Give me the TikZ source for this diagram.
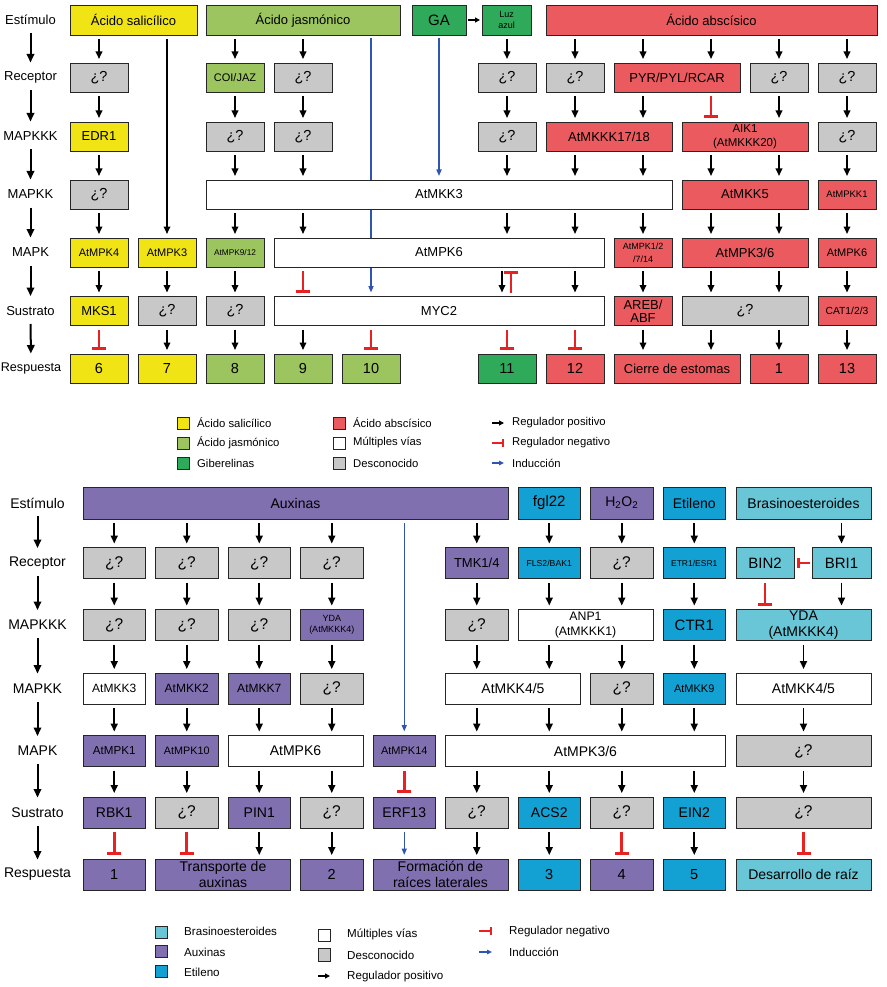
\documentclass[tikz,border=0pt]{standalone}
\usepackage{fontspec}
\setmainfont{Liberation Sans}
\usetikzlibrary{arrows.meta,backgrounds}
\definecolor{cY}{HTML}{F0E414}
\definecolor{cLG}{HTML}{9DC55F}
\definecolor{cDG}{HTML}{2FAA5A}
\definecolor{cR}{HTML}{EB5A5E}
\definecolor{cG}{HTML}{C8C8C8}
\definecolor{cP}{HTML}{8070B0}
\definecolor{cB}{HTML}{12A1D2}
\definecolor{cC}{HTML}{68C6D7}
\definecolor{cInh}{HTML}{E82222}
\definecolor{cInd}{HTML}{2E55B0}
\tikzset{
 box/.style={draw=black!85,line width=0.8pt,inner sep=0pt,outer sep=0pt,align=center},
 fs/.style 2 args={font=\fontsize{#1}{#2}\selectfont},
 sY/.style={fill=cY}, sLG/.style={fill=cLG}, sDG/.style={fill=cDG}, sR/.style={fill=cR},
 sG/.style={fill=cG}, sW/.style={fill=white}, sP/.style={fill=cP}, sB/.style={fill=cB}, sC/.style={fill=cC},
 numtx/.style={fs={14.5}{16}},
 parr/.style={-{Triangle[length=7.5pt,width=6.5pt]},line width=1.7pt,shorten <=4pt,shorten >=4pt},
 narr/.style={-{Bar[width=14pt]},draw=cInh,line width=2.6pt,shorten <=4pt,shorten >=4pt},
 iarr/.style={-{Triangle[length=6.5pt,width=5pt]},draw=cInd,line width=1.5pt,shorten <=4pt,shorten >=4pt},
 sidearr/.style={-{Triangle[length=8.5pt,width=7.5pt]},line width=2pt,shorten <=13pt,shorten >=15pt},
 lbl/.style={inner sep=0pt,align=center},
 lgsq/.style={draw=black!85,line width=0.7pt,minimum width=12pt,minimum height=12.5pt,inner sep=0pt},
 lgt/.style={anchor=west,inner sep=0pt},
 lparr/.style={-{Triangle[length=5pt,width=5pt]},line width=1.3pt},
 lnarr/.style={-{Bar[width=8pt]},draw=cInh,line width=2pt},
 liarr/.style={-{Triangle[length=5pt,width=4.5pt]},draw=cInd,line width=1.4pt},
}
\newcommand\bx[7]{\node[box,#1,minimum width={(#4)-(#3)},minimum height={#6}] (#2) at ({((#3)+(#4))/2},#5) {#7};}
\newcommand\cn[4]{\draw[#1] (#2.south -| #4) -- (#3.north -| #4);}
\newcommand\qmk{{\fontsize{14.5}{15}\selectfont ¿?}}
\newcommand\qmkb{{\fontsize{15.5}{16}\selectfont ¿?}}
\begin{document}
\begin{tikzpicture}[x=1pt,y=-1pt]
\useasboundingbox (0,0) rectangle (886,987);
\foreach \i in {0,...,11} {\coordinate (tc\i) at ({99+68*\i},0);}
\coordinate (tcA) at (502,0);
\coordinate (tcB) at (511,0);
\foreach \i in {0,...,8} {\coordinate (bc\i) at ({114.25+72.5*\i},0);}
\coordinate (bcR) at (803.5,0);
\coordinate (bcL) at (765,0);
\coordinate (bcRR) at (841.5,0);

% ================= TOP =================
\begin{scope}[fs={13}{15}]
\node[lbl] (tl0) at (30.5,20) {Estímulo};
\node[lbl] (tl1) at (30.5,77.5) {Receptor};
\node[lbl] (tl2) at (30.5,136.5) {MAPKKK};
\node[lbl] (tl3) at (30.5,194.5) {MAPKK};
\node[lbl] (tl4) at (30.5,252.5) {MAPK};
\node[lbl] (tl5) at (30.5,311) {Sustrato};
\node[lbl,fs={12.6}{14}] (tl6) at (31,368.5) {Respuesta};
\foreach \a/\b in {tl0/tl1,tl1/tl2,tl2/tl3,tl3/tl4,tl4/tl5,tl5/tl6} {\draw[sidearr] (\a.center) -- (\b.center);}

\bx{sY}{sa}{70}{197}{20}{30}{Ácido salicílico}
\bx{sLG}{ja}{206}{400}{20}{30}{Ácido jasmónico}
\bx{sDG,fs={15}{16}}{ga}{412}{466}{20}{30}{GA}
\bx{sDG,fs={9}{11.5}}{luz}{482}{531}{20}{30}{Luz\\azul}
\bx{sR}{aba}{546}{877}{20}{30}{Ácido abscísico}

\bx{sG}{ra0}{70}{128}{77.5}{29}{\qmk}
\bx{sLG,fs={11}{13}}{coi}{206}{264}{77.5}{29}{COI/JAZ}
\bx{sG}{ra3}{274}{332}{77.5}{29}{\qmk}
\bx{sG}{ra6}{478}{536}{77.5}{29}{\qmk}
\bx{sG}{ra7}{546}{604}{77.5}{29}{\qmk}
\bx{sR}{pyr}{614}{740}{77.5}{29}{PYR/PYL/RCAR}
\bx{sG}{ra10}{750}{808}{77.5}{29}{\qmk}
\bx{sG}{ra11}{818}{876}{77.5}{29}{\qmk}

\bx{sY}{edr}{70}{128}{136.5}{29}{EDR1}
\bx{sG}{rb2}{206}{264}{136.5}{29}{\qmk}
\bx{sG}{rb3}{274}{332}{136.5}{29}{\qmk}
\bx{sG}{rb6}{478}{536}{136.5}{29}{\qmk}
\bx{sR}{mkkk}{546}{672}{136.5}{29}{AtMKKK17/18}
\bx{sR,fs={11.5}{14}}{aik}{682}{808}{136.5}{29}{AIK1\\(AtMKKK20)}
\bx{sG}{rb11}{818}{876}{136.5}{29}{\qmk}

\bx{sG}{rc0}{70}{128}{194.5}{29}{\qmk}
\bx{sW}{mkk3}{206}{672}{194.5}{29}{AtMKK3}
\bx{sR}{mkk5}{682}{808}{194.5}{29}{AtMKK5}
\bx{sR,fs={9.5}{11}}{mpkk1}{818}{876}{194.5}{29}{AtMPKK1}

\bx{sY,fs={11}{13}}{mpk4}{70}{128}{252.5}{29}{AtMPK4}
\bx{sY,fs={11}{13}}{mpk3}{138}{196}{252.5}{29}{AtMPK3}
\bx{sLG,fs={8.3}{10}}{mpk912}{206}{264}{252.5}{29}{AtMPK9/12}
\bx{sW}{mpk6}{274}{604}{252.5}{29}{AtMPK6}
\bx{sR,fs={9}{13}}{mpk127}{614}{672}{252.5}{29}{AtMPK1/2\\/7/14}
\bx{sR}{mpk36}{682}{808}{252.5}{29}{AtMPK3/6}
\bx{sR,fs={11}{13}}{mpk6r}{818}{876}{252.5}{29}{AtMPK6}

\bx{sY}{mks}{70}{128}{311}{29}{MKS1}
\bx{sG}{rd1}{138}{196}{311}{29}{\qmk}
\bx{sG}{rd2}{206}{264}{311}{29}{\qmk}
\bx{sW}{myc}{274}{604}{311}{29}{MYC2}
\bx{sR,fs={13}{13}}{areb}{614}{672}{311}{29}{AREB/\\ABF}
\bx{sG}{rd9}{682}{808}{311}{29}{\qmk}
\bx{sR,fs={10.3}{12}}{cat}{818}{876}{311}{29}{CAT1/2/3}

\bx{sY,numtx}{p6}{70}{128}{368.5}{29}{6}
\bx{sY,numtx}{p7}{138}{196}{368.5}{29}{7}
\bx{sLG,numtx}{p8}{206}{264}{368.5}{29}{8}
\bx{sLG,numtx}{p9}{274}{332}{368.5}{29}{9}
\bx{sLG,numtx}{p10}{342}{400}{368.5}{29}{10}
\bx{sDG,numtx}{p11}{478}{536}{368.5}{29}{11}
\bx{sR,numtx}{p12}{546}{604}{368.5}{29}{12}
\bx{sR}{cierre}{614}{740}{368.5}{29}{Cierre de estomas}
\bx{sR,numtx}{p1}{750}{808}{368.5}{29}{1}
\bx{sR,numtx}{p13}{818}{876}{368.5}{29}{13}
\end{scope}

\begin{scope}[on background layer]
\draw[iarr,shorten <=3pt] (ja.south -| tc4) -- (myc.north -| tc4);
\end{scope}

% top connectors
\draw[-{Triangle[length=5pt,width=5pt]},line width=1.3pt,shorten <=2pt,shorten >=2pt] (ga.east) -- (luz.west);
\cn{parr}{sa}{ra0}{tc0}
\cn{parr}{sa}{mpk3}{tc1}
\cn{parr}{ja}{coi}{tc2}
\cn{parr}{ja}{ra3}{tc3}
\cn{iarr,shorten <=3pt}{ga}{mkk3}{tc5}
\cn{parr}{luz}{ra6}{tc6}
\cn{parr}{aba}{ra7}{tc7}
\cn{parr}{aba}{pyr}{tc8}
\cn{parr}{aba}{pyr}{tc9}
\cn{parr}{aba}{ra10}{tc10}
\cn{parr}{aba}{ra11}{tc11}

\cn{parr}{ra0}{edr}{tc0}
\cn{parr}{coi}{rb2}{tc2}
\cn{parr}{ra3}{rb3}{tc3}
\cn{parr}{ra6}{rb6}{tc6}
\cn{parr}{ra7}{mkkk}{tc7}
\cn{parr}{pyr}{mkkk}{tc8}
\cn{narr}{pyr}{aik}{tc9}
\cn{parr}{ra10}{aik}{tc10}
\cn{parr}{ra11}{rb11}{tc11}

\cn{parr}{edr}{rc0}{tc0}
\cn{parr}{rb2}{mkk3}{tc2}
\cn{parr}{rb3}{mkk3}{tc3}
\cn{parr}{rb6}{mkk3}{tc6}
\cn{parr}{mkkk}{mkk3}{tc7}
\cn{parr}{mkkk}{mkk3}{tc8}
\cn{parr}{aik}{mkk5}{tc9}
\cn{parr}{aik}{mkk5}{tc10}
\cn{parr}{rb11}{mpkk1}{tc11}

\cn{parr}{rc0}{mpk4}{tc0}
\cn{parr}{mkk3}{mpk912}{tc2}
\cn{parr}{mkk3}{mpk6}{tc3}
\cn{parr}{mkk3}{mpk6}{tc6}
\cn{parr}{mkk3}{mpk6}{tc7}
\cn{parr}{mkk3}{mpk127}{tc8}
\cn{parr}{mkk5}{mpk36}{tc9}
\cn{parr}{mkk5}{mpk36}{tc10}
\cn{parr}{mpkk1}{mpk6r}{tc11}

\cn{parr}{mpk4}{mks}{tc0}
\cn{parr}{mpk3}{rd1}{tc1}
\cn{parr}{mpk912}{rd2}{tc2}
\cn{narr}{mpk6}{myc}{tc3}
\cn{parr}{mpk6}{myc}{tcA}
\draw[narr] (myc.north -| tcB) -- (mpk6.south -| tcB);
\cn{parr}{mpk6}{myc}{tc7}
\cn{parr}{mpk127}{areb}{tc8}
\cn{parr}{mpk36}{rd9}{tc9}
\cn{parr}{mpk36}{rd9}{tc10}
\cn{parr}{mpk6r}{cat}{tc11}

\cn{narr}{mks}{p6}{tc0}
\cn{parr}{rd1}{p7}{tc1}
\cn{parr}{rd2}{p8}{tc2}
\cn{parr}{myc}{p9}{tc3}
\cn{narr}{myc}{p10}{tc4}
\cn{narr}{myc}{p11}{tc6}
\cn{narr}{myc}{p12}{tc7}
\cn{parr}{areb}{cierre}{tc8}
\cn{parr}{rd9}{cierre}{tc9}
\cn{parr}{rd9}{p1}{tc10}
\cn{parr}{cat}{p13}{tc11}

% top legend
\begin{scope}[fs={11.3}{13}]
\node[lgsq,sY] (lq1) at (183,423.5) {};
\node[lgsq,sLG] (lq2) at (183,443.5) {};
\node[lgsq,sDG] (lq3) at (183,463.5) {};
\node[lgt] (lt1) at (197,423) {Ácido salicílico};
\node[lgt] (lt2) at (197,443) {Ácido jasmónico};
\node[lgt] (lt3) at (197,463) {Giberelinas};
\node[lgsq,sR] (lq4) at (339,423.5) {};
\node[lgsq,sW] (lq5) at (339,443.5) {};
\node[lgsq,sG] (lq6) at (339,463.5) {};
\node[lgt] (lt4) at (353,423) {Ácido abscísico};
\node[lgt] (lt5) at (353,443) {Múltiples vías};
\node[lgt] (lt6) at (353,463) {Desconocido};
\coordinate (la1) at (492,423); \coordinate (la1e) at (504,423);
\coordinate (la2) at (492,443); \coordinate (la2e) at (504,443);
\coordinate (la3) at (492,463); \coordinate (la3e) at (504,463);
\draw[lparr] (la1) -- (la1e);
\draw[lnarr] (la2) -- (la2e);
\draw[liarr] (la3) -- (la3e);
\node[lgt] (lt7) at (512,423) {Regulador positivo};
\node[lgt] (lt8) at (512,443) {Regulador negativo};
\node[lgt] (lt9) at (512,463) {Inducción};
\end{scope}

% ================= BOTTOM =================
\begin{scope}[fs={14}{16},parr/.append style={line width=1.9pt,-{Triangle[length=8pt,width=7pt]}}]
\node[lbl] (bl0) at (37.5,503) {Estímulo};
\node[lbl] (bl1) at (37.5,563) {Receptor};
\node[lbl] (bl2) at (37.5,625) {MAPKKK};
\node[lbl] (bl3) at (37.5,688.5) {MAPKK};
\node[lbl] (bl4) at (37.5,751) {MAPK};
\node[lbl] (bl5) at (37.5,812.5) {Sustrato};
\node[lbl] (bl6) at (37.5,874.5) {Respuesta};
\foreach \a/\b in {bl0/bl1,bl1/bl2,bl2/bl3,bl3/bl4,bl4/bl5,bl5/bl6} {\draw[sidearr] (\a.center) -- (\b.center);}

\bx{sP}{aux}{83}{508}{503}{32}{Auxinas}
\bx{sB,fs={15}{16}}{fgl}{518}{580.5}{503}{32}{fgl22}
\bx{sP}{hoo}{590.5}{653}{503}{32}{H\textsubscript{2}O\textsubscript{2}}
\bx{sB}{eti}{663}{725.5}{503}{32}{Etileno}
\bx{sC}{bras}{736}{871}{503}{32}{Brasinoesteroides}

\bx{sG}{ba0}{83}{145.5}{563}{31}{\qmkb}
\bx{sG}{ba1}{155.5}{218}{563}{31}{\qmkb}
\bx{sG}{ba2}{228}{290.5}{563}{31}{\qmkb}
\bx{sG}{ba3}{300.5}{363}{563}{31}{\qmkb}
\bx{sP,fs={13}{15}}{tmk}{445.5}{508}{563}{31}{TMK1/4}
\bx{sB,fs={8.7}{10}}{fls}{518}{580.5}{563}{31}{FLS2/BAK1}
\bx{sG}{ba7}{590.5}{653}{563}{31}{\qmkb}
\bx{sB,fs={8.5}{10}}{etr}{663}{725.5}{563}{31}{ETR1/ESR1}
\bx{sC,fs={15}{16}}{bin}{736}{794}{563}{31}{BIN2}
\bx{sC,fs={15}{16}}{bri}{812}{871}{563}{31}{BRI1}

\bx{sG}{bb0}{83}{145.5}{625}{31}{\qmkb}
\bx{sG}{bb1}{155.5}{218}{625}{31}{\qmkb}
\bx{sG}{bb2}{228}{290.5}{625}{31}{\qmkb}
\bx{sP,fs={9}{11.5}}{ydaA}{300.5}{363}{625}{31}{YDA\\(AtMKKK4)}
\bx{sG}{bb5}{445.5}{508}{625}{31}{\qmkb}
\bx{sW,fs={12.3}{15}}{anp}{518}{653}{625}{31}{ANP1\\(AtMKKK1)}
\bx{sB,fs={15}{16}}{ctr}{663}{725.5}{625}{31}{CTR1}
\bx{sC,fs={14}{16.5}}{ydaB}{736}{871}{625}{31}{YDA\\(AtMKKK4)}

\bx{sW,fs={12}{14}}{mkk3b}{83}{145.5}{688.5}{31}{AtMKK3}
\bx{sP,fs={12}{14}}{mkk2}{155.5}{218}{688.5}{31}{AtMKK2}
\bx{sP,fs={12}{14}}{mkk7}{228}{290.5}{688.5}{31}{AtMKK7}
\bx{sG}{bc3n}{300.5}{363}{688.5}{31}{\qmkb}
\bx{sW}{mkk45}{445.5}{580.5}{688.5}{31}{AtMKK4/5}
\bx{sG}{bc7n}{590.5}{653}{688.5}{31}{\qmkb}
\bx{sB,fs={11}{13}}{mkk9}{663}{725.5}{688.5}{31}{AtMKK9}
\bx{sW}{mkk45b}{736}{871}{688.5}{31}{AtMKK4/5}

\bx{sP,fs={11.6}{13}}{mpk1b}{83}{145.5}{751}{31}{AtMPK1}
\bx{sP,fs={10.8}{13}}{mpk10}{155.5}{218}{751}{31}{AtMPK10}
\bx{sW}{mpk6b}{228}{363}{751}{31}{AtMPK6}
\bx{sP,fs={11}{13}}{mpk14}{373}{435.5}{751}{31}{AtMPK14}
\bx{sW}{mpk36b}{445.5}{725.5}{751}{31}{AtMPK3/6}
\bx{sG}{bdR}{736}{871}{751}{31}{\qmkb}

\bx{sP}{rbk}{83}{145.5}{812.5}{31}{RBK1}
\bx{sG}{be1}{155.5}{218}{812.5}{31}{\qmkb}
\bx{sP}{pin}{228}{290.5}{812.5}{31}{PIN1}
\bx{sG}{be3}{300.5}{363}{812.5}{31}{\qmkb}
\bx{sP}{erf}{373}{435.5}{812.5}{31}{ERF13}
\bx{sG}{be5}{445.5}{508}{812.5}{31}{\qmkb}
\bx{sB}{acs}{518}{580.5}{812.5}{31}{ACS2}
\bx{sG}{be7}{590.5}{653}{812.5}{31}{\qmkb}
\bx{sB}{ein}{663}{725.5}{812.5}{31}{EIN2}
\bx{sG}{beR}{736}{871}{812.5}{31}{\qmkb}

\bx{sP,numtx}{q1}{83}{145.5}{874.5}{31}{1}
\bx{sP}{trans}{155.5}{290.5}{874.5}{31}{Transporte de\\auxinas}
\bx{sP,numtx}{q2}{300.5}{363}{874.5}{31}{2}
\bx{sP}{form}{373}{508}{874.5}{31}{Formación de\\raíces laterales}
\bx{sB,numtx}{q3}{518}{580.5}{874.5}{31}{3}
\bx{sP,numtx}{q4}{590.5}{653}{874.5}{31}{4}
\bx{sB,numtx}{q5}{663}{725.5}{874.5}{31}{5}
\bx{sC}{des}{736}{871}{874.5}{31}{Desarrollo de raíz}

% bottom connectors
\cn{parr}{aux}{ba0}{bc0}
\cn{parr}{aux}{ba1}{bc1}
\cn{parr}{aux}{ba2}{bc2}
\cn{parr}{aux}{ba3}{bc3}
\cn{iarr}{aux}{mpk14}{bc4}
\cn{parr}{aux}{tmk}{bc5}
\cn{parr}{fgl}{fls}{bc6}
\cn{parr}{hoo}{ba7}{bc7}
\cn{parr}{eti}{etr}{bc8}
\cn{parr}{bras}{bri}{bcRR}
\draw[-{Bar[width=10pt]},draw=cInh,line width=2.6pt,shorten <=2pt,shorten >=3pt] (bri.west) -- (bin.east);

\cn{parr}{ba0}{bb0}{bc0}
\cn{parr}{ba1}{bb1}{bc1}
\cn{parr}{ba2}{bb2}{bc2}
\cn{parr}{ba3}{ydaA}{bc3}
\cn{parr}{tmk}{bb5}{bc5}
\cn{parr}{fls}{anp}{bc6}
\cn{parr}{ba7}{anp}{bc7}
\cn{parr}{etr}{ctr}{bc8}
\cn{narr}{bin}{ydaB}{bcL}
\cn{parr}{bri}{ydaB}{bcRR}

\cn{parr}{bb0}{mkk3b}{bc0}
\cn{parr}{bb1}{mkk2}{bc1}
\cn{parr}{bb2}{mkk7}{bc2}
\cn{parr}{ydaA}{bc3n}{bc3}
\cn{parr}{bb5}{mkk45}{bc5}
\cn{parr}{anp}{mkk45}{bc6}
\cn{parr}{anp}{bc7n}{bc7}
\cn{parr}{ctr}{mkk9}{bc8}
\cn{parr}{ydaB}{mkk45b}{bcR}

\cn{parr}{mkk3b}{mpk1b}{bc0}
\cn{parr}{mkk2}{mpk10}{bc1}
\cn{parr}{mkk7}{mpk6b}{bc2}
\cn{parr}{bc3n}{mpk6b}{bc3}
\cn{parr}{mkk45}{mpk36b}{bc5}
\cn{parr}{mkk45}{mpk36b}{bc6}
\cn{parr}{bc7n}{mpk36b}{bc7}
\cn{parr}{mkk9}{mpk36b}{bc8}
\cn{parr}{mkk45b}{bdR}{bcR}

\cn{parr}{mpk1b}{rbk}{bc0}
\cn{parr}{mpk10}{be1}{bc1}
\cn{parr}{mpk6b}{pin}{bc2}
\cn{parr}{mpk6b}{be3}{bc3}
\cn{narr}{mpk14}{erf}{bc4}
\cn{parr}{mpk36b}{be5}{bc5}
\cn{parr}{mpk36b}{acs}{bc6}
\cn{parr}{mpk36b}{be7}{bc7}
\cn{parr}{mpk36b}{ein}{bc8}
\cn{parr}{bdR}{beR}{bcR}

\cn{narr}{rbk}{q1}{bc0}
\cn{narr}{be1}{trans}{bc1}
\cn{parr}{pin}{trans}{bc2}
\cn{parr}{be3}{q2}{bc3}
\cn{iarr}{erf}{form}{bc4}
\cn{parr}{be5}{form}{bc5}
\cn{parr}{acs}{q3}{bc6}
\cn{narr}{be7}{q4}{bc7}
\cn{parr}{ein}{q5}{bc8}
\cn{narr}{beR}{des}{bcR}
\end{scope}

% bottom legend
\begin{scope}[fs={11.6}{13}]
\node[lgsq,minimum height=12pt,sC] (mq1) at (161,932.5) {};
\node[lgsq,minimum height=12pt,sP] (mq2) at (161,951) {};
\node[lgsq,minimum height=12pt,sB] (mq3) at (161,971) {};
\node[lgt] (mt1) at (184,931) {Brasinoesteroides};
\node[lgt] (mt2) at (184,952) {Auxinas};
\node[lgt] (mt3) at (184,972) {Etileno};
\node[lgsq,sW] (mq4) at (324,935.5) {};
\node[lgsq,sG] (mq5) at (324,955) {};
\coordinate (ma1) at (318,976); \coordinate (ma1e) at (330,976);
\draw[lparr] (ma1) -- (ma1e);
\node[lgt] (mt4) at (347,934) {Múltiples vías};
\node[lgt] (mt5) at (347,955) {Desconocido};
\node[lgt] (mt6) at (347,976) {Regulador positivo};
\coordinate (ma2) at (479,931); \coordinate (ma2e) at (492,931);
\coordinate (ma3) at (479,952); \coordinate (ma3e) at (492,952);
\draw[lnarr] (ma2) -- (ma2e);
\draw[liarr] (ma3) -- (ma3e);
\node[lgt] (mt7) at (509,931) {Regulador negativo};
\node[lgt] (mt8) at (509,952) {Inducción};
\end{scope}
\end{tikzpicture}
\end{document}
